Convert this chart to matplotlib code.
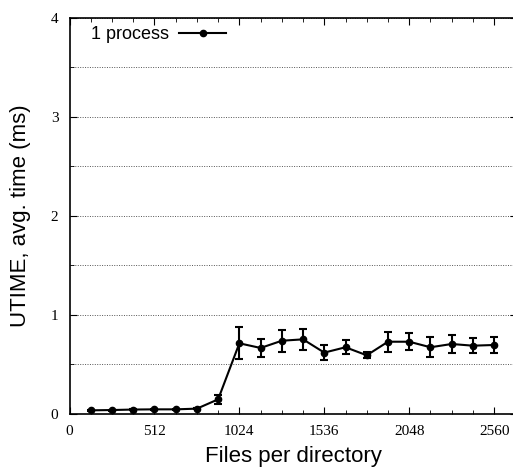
import matplotlib
matplotlib.use('Agg')
import matplotlib.pyplot as plt
from matplotlib.lines import Line2D
from matplotlib.ticker import MultipleLocator

# files per directory
files = [128, 256, 384, 512, 640, 768, 896, 1024, 1152, 1280,
         1408, 1536, 1664, 1792, 1920, 2048, 2176, 2304, 2432, 2560]
# avg utime (ms) and error
utime = [0.037, 0.040, 0.045, 0.047, 0.047, 0.054, 0.148, 0.714, 0.667, 0.740,
         0.754, 0.620, 0.674, 0.593, 0.730, 0.730, 0.674, 0.707, 0.690, 0.697]
err = [0.005, 0.005, 0.005, 0.005, 0.005, 0.006, 0.043, 0.160, 0.090, 0.110,
       0.107, 0.077, 0.070, 0.032, 0.100, 0.087, 0.100, 0.090, 0.076, 0.083]

fig = plt.figure(figsize=(5.13, 4.67), dpi=100)
ax = fig.add_axes([0.1355, 0.1135, 0.873, 0.848])

ax.errorbar(files, utime, yerr=err, color='black', lw=1.5, marker='o',
            markersize=4.5, capsize=3, capthick=1.5, elinewidth=1.5)

ax.set_xlim(0, 2700)
ax.set_ylim(0, 4)
ax.xaxis.set_major_locator(MultipleLocator(512))
ax.xaxis.set_minor_locator(MultipleLocator(128))
ax.yaxis.set_major_locator(MultipleLocator(1))
ax.yaxis.set_minor_locator(MultipleLocator(0.5))
ax.grid(True, which='both', axis='y', linestyle=(0, (1, 1.5)), color='#555555', lw=0.7)

ax.tick_params(which='both', direction='in', top=True, right=True)
ax.tick_params(which='major', length=5, labelsize=11, pad=8)
ax.tick_params(which='minor', length=3)
for lbl in ax.get_xticklabels() + ax.get_yticklabels():
    lbl.set_family('Liberation Serif')

for s in ax.spines.values():
    s.set_linewidth(1.2)

ax.set_xlabel('Files per directory', fontsize=16, family='Liberation Sans', labelpad=6)
ax.set_ylabel('UTIME, avg. time (ms)', fontsize=16, family='Liberation Sans', labelpad=14)

# legend: text first, then line with marker (gnuplot style)
handle = Line2D([], [], color='black', lw=1.5, marker='o', markersize=4.5)
ax.legend([handle], ['1 process'], loc='upper left', frameon=False, markerfirst=False,
          handlelength=2.6, handletextpad=0.6, borderpad=0, borderaxespad=0,
          prop={'family': 'Liberation Sans', 'size': 13},
          bbox_to_anchor=(0.047, 0.98))

fig.savefig('out.png', dpi=100)
